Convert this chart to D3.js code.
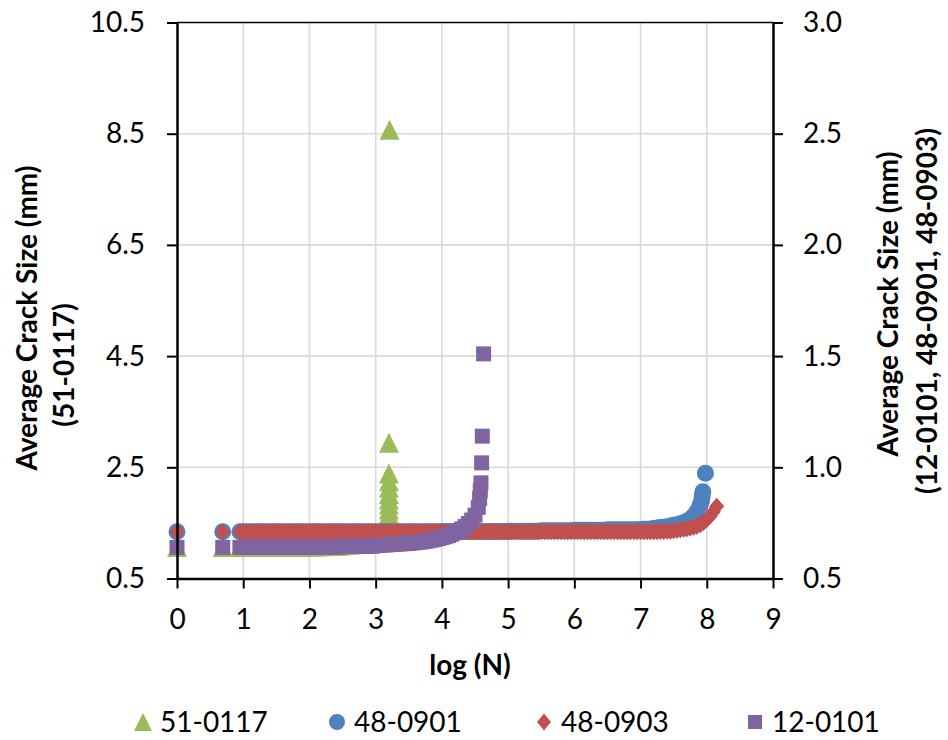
<!DOCTYPE html>
<html>
<head>
<meta charset="utf-8">
<script src="https://cdn.jsdelivr.net/npm/d3@7"></script>
<style>
  body { margin: 0; background: #fff; }
  text { font-family: Lato, "Open Sans", sans-serif; fill: #000; }
</style>
</head>
<body>
<div id="chart"></div>
<script>
// x positions: log (N)
const logN = [
  0, 0.69, 0.95,
  1.00, 1.05, 1.10, 1.15, 1.20, 1.25, 1.30, 1.35, 1.40, 1.45, 1.50, 1.55, 1.60, 1.65, 1.70, 1.75, 1.80, 1.85, 1.90, 1.95,
  2.00, 2.05, 2.10, 2.15, 2.20, 2.25, 2.30, 2.35, 2.40, 2.45, 2.50, 2.55, 2.60, 2.65, 2.70, 2.75, 2.80, 2.85, 2.90, 2.95,
  3.00, 3.05, 3.10, 3.15, 3.20, 3.25, 3.30, 3.35, 3.40, 3.45, 3.50, 3.55, 3.60, 3.65, 3.70, 3.75, 3.80, 3.85, 3.90, 3.95,
  4.00, 4.05, 4.10, 4.15, 4.20, 4.25, 4.30, 4.35, 4.40, 4.45, 4.50, 4.55, 4.60, 4.65, 4.70, 4.75, 4.80, 4.85, 4.90, 4.95,
  5.00, 5.05, 5.10, 5.15, 5.20, 5.25, 5.30, 5.35, 5.40, 5.45, 5.50, 5.55, 5.60, 5.65, 5.70, 5.75, 5.80, 5.85, 5.90, 5.95,
  6.00, 6.05, 6.10, 6.15, 6.20, 6.25, 6.30, 6.35, 6.40, 6.45, 6.50, 6.55, 6.60, 6.65, 6.70, 6.75, 6.80, 6.85, 6.90, 6.95,
  7.00, 7.05, 7.10, 7.15, 7.20, 7.25, 7.30, 7.35, 7.40, 7.45, 7.50, 7.55, 7.60, 7.65, 7.70, 7.75, 7.80, 7.85, 7.90, 7.95,
  8.00, 8.05, 8.10, 8.15
]

// 51-0117 (left axis), values at the first 48 logN positions, then the jump at the end
const crack51_0117 = [
  1.065, 1.065, 1.065,
  1.065, 1.065, 1.065, 1.065, 1.065, 1.065, 1.065, 1.065, 1.065, 1.065, 1.07, 1.07, 1.07, 1.07, 1.07, 1.07, 1.07, 1.07, 1.07, 1.07,
  1.075, 1.075, 1.08, 1.08, 1.08, 1.085, 1.085, 1.09, 1.09, 1.095, 1.10, 1.105, 1.11, 1.115, 1.12, 1.13, 1.14, 1.16, 1.18, 1.20,
  1.23, 1.27, 1.32, 1.40, 1.50
]
const end51_0117_x = [3.2, 3.2, 3.2, 3.2, 3.2, 3.2, 3.2, 3.2, 3.2, 3.2, 3.21]
const end51_0117_y = [1.58, 1.66, 1.74, 1.83, 1.92, 2.02, 2.13, 2.25, 2.39, 2.94, 8.57]

// 48-0901 (right axis)
const crack48_0901 = [
  0.71, 0.71, 0.71,
  0.71, 0.71, 0.71, 0.71, 0.71, 0.71, 0.71, 0.71, 0.71, 0.71, 0.71, 0.71, 0.71, 0.71, 0.71, 0.71, 0.71, 0.71, 0.71, 0.71,
  0.71, 0.71, 0.71, 0.71, 0.71, 0.71, 0.71, 0.71, 0.71, 0.71, 0.71, 0.71, 0.71, 0.71, 0.71, 0.71, 0.71, 0.71, 0.71, 0.71,
  0.71, 0.71, 0.71, 0.71, 0.71, 0.71, 0.71, 0.71, 0.71, 0.71, 0.71, 0.71, 0.71, 0.71, 0.71, 0.71, 0.71, 0.71, 0.71, 0.71,
  0.711, 0.711, 0.711, 0.711, 0.711, 0.711, 0.711, 0.711, 0.711, 0.711, 0.711, 0.711, 0.711, 0.711, 0.711, 0.711, 0.711, 0.711, 0.711, 0.711,
  0.713, 0.713, 0.713, 0.713, 0.713, 0.713, 0.713, 0.713, 0.713, 0.713, 0.715, 0.715, 0.715, 0.715, 0.715, 0.715, 0.715, 0.715, 0.715, 0.715,
  0.717, 0.717, 0.717, 0.717, 0.717, 0.717, 0.717, 0.717, 0.717, 0.717, 0.719, 0.719, 0.719, 0.719, 0.719, 0.719, 0.719, 0.719, 0.719, 0.719,
  0.72, 0.721, 0.722, 0.723, 0.725, 0.727, 0.729, 0.731, 0.733, 0.736, 0.739, 0.742, 0.746, 0.751, 0.757, 0.766, 0.78, 0.80, 0.83
]
const end48_0901_x = [7.92, 7.93, 7.94, 7.98]
const end48_0901_y = [0.85, 0.87, 0.89, 0.973]

// 48-0903 (right axis)
const crack48_0903 = [
  0.71, 0.71, 0.71,
  0.71, 0.71, 0.71, 0.71, 0.71, 0.71, 0.71, 0.71, 0.71, 0.71, 0.71, 0.71, 0.71, 0.71, 0.71, 0.71, 0.71, 0.71, 0.71, 0.71,
  0.71, 0.71, 0.71, 0.71, 0.71, 0.71, 0.71, 0.71, 0.71, 0.71, 0.71, 0.71, 0.71, 0.71, 0.71, 0.71, 0.71, 0.71, 0.71, 0.71,
  0.71, 0.71, 0.71, 0.71, 0.71, 0.71, 0.71, 0.71, 0.71, 0.71, 0.71, 0.71, 0.71, 0.71, 0.71, 0.71, 0.71, 0.71, 0.71, 0.71,
  0.71, 0.71, 0.71, 0.71, 0.71, 0.71, 0.71, 0.71, 0.71, 0.71, 0.71, 0.71, 0.71, 0.71, 0.71, 0.71, 0.71, 0.71, 0.71, 0.71,
  0.71, 0.71, 0.71, 0.71, 0.71, 0.71, 0.71, 0.71, 0.71, 0.71, 0.71, 0.71, 0.71, 0.71, 0.71, 0.71, 0.71, 0.71, 0.71, 0.71,
  0.71, 0.71, 0.71, 0.71, 0.71, 0.71, 0.71, 0.71, 0.71, 0.71, 0.71, 0.71, 0.71, 0.71, 0.71, 0.71, 0.71, 0.71, 0.71, 0.71,
  0.71, 0.71, 0.71, 0.71, 0.71, 0.71, 0.711, 0.711, 0.712, 0.713, 0.715, 0.717, 0.719, 0.721, 0.724, 0.727, 0.73, 0.735, 0.742, 0.752,
  0.765, 0.78, 0.80, 0.825
]

// 12-0101 (right axis)
const crack12_0101 = [
  0.64, 0.64, 0.64,
  0.64, 0.64, 0.64, 0.64, 0.64, 0.64, 0.64, 0.64, 0.64, 0.64, 0.64, 0.64, 0.64, 0.64, 0.64, 0.64, 0.64, 0.64, 0.64, 0.64,
  0.642, 0.642, 0.642, 0.642, 0.642, 0.642, 0.642, 0.642, 0.642, 0.642, 0.645, 0.645, 0.645, 0.645, 0.645, 0.645, 0.645, 0.645, 0.645, 0.645,
  0.648, 0.65, 0.65, 0.651, 0.652, 0.653, 0.654, 0.655, 0.656, 0.657, 0.658, 0.66, 0.661, 0.663, 0.665, 0.667, 0.67, 0.673, 0.676, 0.68,
  0.684, 0.688, 0.693, 0.699, 0.706, 0.714, 0.723, 0.734, 0.747, 0.763, 0.785, 0.82
]
const end12_0101_x = [4.57, 4.58, 4.59, 4.60, 4.61, 4.63]
const end12_0101_y = [0.86, 0.895, 0.93, 1.02, 1.14, 1.51]

const xTicks = [0, 1, 2, 3, 4, 5, 6, 7, 8, 9]
const leftTicks = [0.5, 2.5, 4.5, 6.5, 8.5, 10.5]
const rightTicks = [0.5, 1.0, 1.5, 2.0, 2.5, 3.0]

const width = 948
const height = 740
const margin = {top: 22.5, right: 175, bottom: 161.5, left: 177}
const boundedWidth = width - margin.left - margin.right
const boundedHeight = height - margin.top - margin.bottom

// marker shapes (centered on the point)
const triangle = s => `M0,${-s / 2}L${s / 2},${s / 2}L${-s / 2},${s / 2}Z`
const diamond = (w, h) => `M0,${-h / 2}L${w / 2},0L0,${h / 2}L${-w / 2},0Z`
const square = s => `M${-s / 2},${-s / 2}h${s}v${s}h${-s}Z`
const circle = r => d3.symbol(d3.symbolCircle, Math.PI * r * r)()

const toPoints = (ys, exX = [], exY = []) =>
  logN.slice(0, ys.length).map((x, i) => [x, ys[i]])
    .concat(exX.map((x, i) => [x, exY[i]]))

const series = [
  {name: "51-0117", axis: "left", color: "#9bbb59", shape: triangle(20), legendShape: triangle(18),
   points: toPoints(crack51_0117, end51_0117_x, end51_0117_y)},
  {name: "48-0901", axis: "right", color: "#4f81bd", shape: circle(8.5), legendShape: circle(8),
   points: toPoints(crack48_0901, end48_0901_x, end48_0901_y)},
  {name: "48-0903", axis: "right", color: "#c0504d", shape: diamond(15, 17), legendShape: diamond(14, 17),
   points: toPoints(crack48_0903)},
  {name: "12-0101", axis: "right", color: "#8064a2", shape: square(15), legendShape: square(14),
   points: toPoints(crack12_0101, end12_0101_x, end12_0101_y)}
]

const svg = d3.select("#chart")
  .append("svg")
    .attr("width", width)
    .attr("height", height)

const bounds = svg.append("g")
    .attr("transform", `translate(${margin.left},${margin.top})`)

const xScale = d3.scaleLinear()
  .domain([0, 9])
  .range([0, boundedWidth])

const yLeft = d3.scaleLinear()
  .domain([0.5, 10.5])
  .range([boundedHeight, 0])

const yRight = d3.scaleLinear()
  .domain([0.5, 3.0])
  .range([boundedHeight, 0])

// gridlines
bounds.append("g")
  .selectAll("line")
  .data(xTicks.filter(d => d > 0 && d < 9))
  .join("line")
    .attr("x1", d => xScale(d))
    .attr("x2", d => xScale(d))
    .attr("y1", 0)
    .attr("y2", boundedHeight)
    .attr("stroke", "#d9d9d9")
    .attr("stroke-width", 1.6)

bounds.append("g")
  .selectAll("line")
  .data(leftTicks.filter(d => d > 0.5 && d < 10.5))
  .join("line")
    .attr("x1", 0)
    .attr("x2", boundedWidth)
    .attr("y1", d => yLeft(d))
    .attr("y2", d => yLeft(d))
    .attr("stroke", "#d9d9d9")
    .attr("stroke-width", 1.6)

// top border
bounds.append("line")
    .attr("x1", 0)
    .attr("x2", boundedWidth)
    .attr("y1", yLeft(10.5))
    .attr("y2", yLeft(10.5))
    .attr("stroke", "#000")
    .attr("stroke-width", 1.5)

// markers
series.forEach(s => {
  const yScale = s.axis == "left" ? yLeft : yRight
  bounds.append("g")
    .selectAll("path")
    .data(s.points)
    .join("path")
      .attr("d", s.shape)
      .attr("transform", d => `translate(${xScale(d[0])},${yScale(d[1])})`)
      .attr("fill", s.color)
})

// axes
const styleAxis = g => {
  g.selectAll(".domain").attr("stroke", "#000").attr("stroke-width", 2.5)
  g.selectAll(".tick line").attr("stroke", "#000").attr("stroke-width", 2)
  g.selectAll(".tick text").style("font-size", "28px")
}

bounds.append("g")
    .attr("transform", `translate(0,${boundedHeight})`)
    .call(d3.axisBottom(xScale).tickValues(xTicks).tickFormat(d3.format("d"))
      .tickSize(10).tickSizeOuter(0).tickPadding(21))
    .call(styleAxis)

bounds.append("g")
    .call(d3.axisLeft(yLeft).tickValues(leftTicks).tickFormat(d3.format(".1f"))
      .tickSize(10).tickSizeOuter(0).tickPadding(22))
    .call(styleAxis)

bounds.append("g")
    .attr("transform", `translate(${boundedWidth},0)`)
    .call(d3.axisRight(yRight).tickValues(rightTicks).tickFormat(d3.format(".1f"))
      .tickSize(10).tickSizeOuter(0).tickPadding(20))
    .call(styleAxis)

svg.selectAll(".tick text").attr("fill", "#000").style("font-family", "Lato, sans-serif")

// axis titles
svg.append("text")
    .attr("x", 470)
    .attr("y", 675)
    .attr("text-anchor", "middle")
    .style("font-size", "28px")
    .style("font-weight", "bold")
    .text("log (N)")

const vTitle = (x, y, label) => svg.append("text")
    .attr("transform", `translate(${x},${y}) rotate(-90)`)
    .attr("text-anchor", "middle")
    .style("font-size", "28px")
    .style("font-weight", "bold")
    .text(label)

vTitle(37, 318, "Average Crack Size (mm)")
vTitle(74, 365, "(51-0117)")
vTitle(898, 304, "Average Crack Size (mm)")
vTitle(937, 311, "(12-0101, 48-0901, 48-0903)")

// legend
const legendX = [143, 337, 544, 755]
const legend = svg.append("g")
  .selectAll("g")
  .data(series)
  .join("g")
    .attr("transform", (d, i) => `translate(${legendX[i]},722)`)

legend.append("path")
    .attr("d", d => d.legendShape)
    .attr("fill", d => d.color)

legend.append("text")
    .attr("x", 17)
    .attr("y", 10)
    .style("font-size", "28px")
    .text(d => d.name)
</script>
</body>
</html>
